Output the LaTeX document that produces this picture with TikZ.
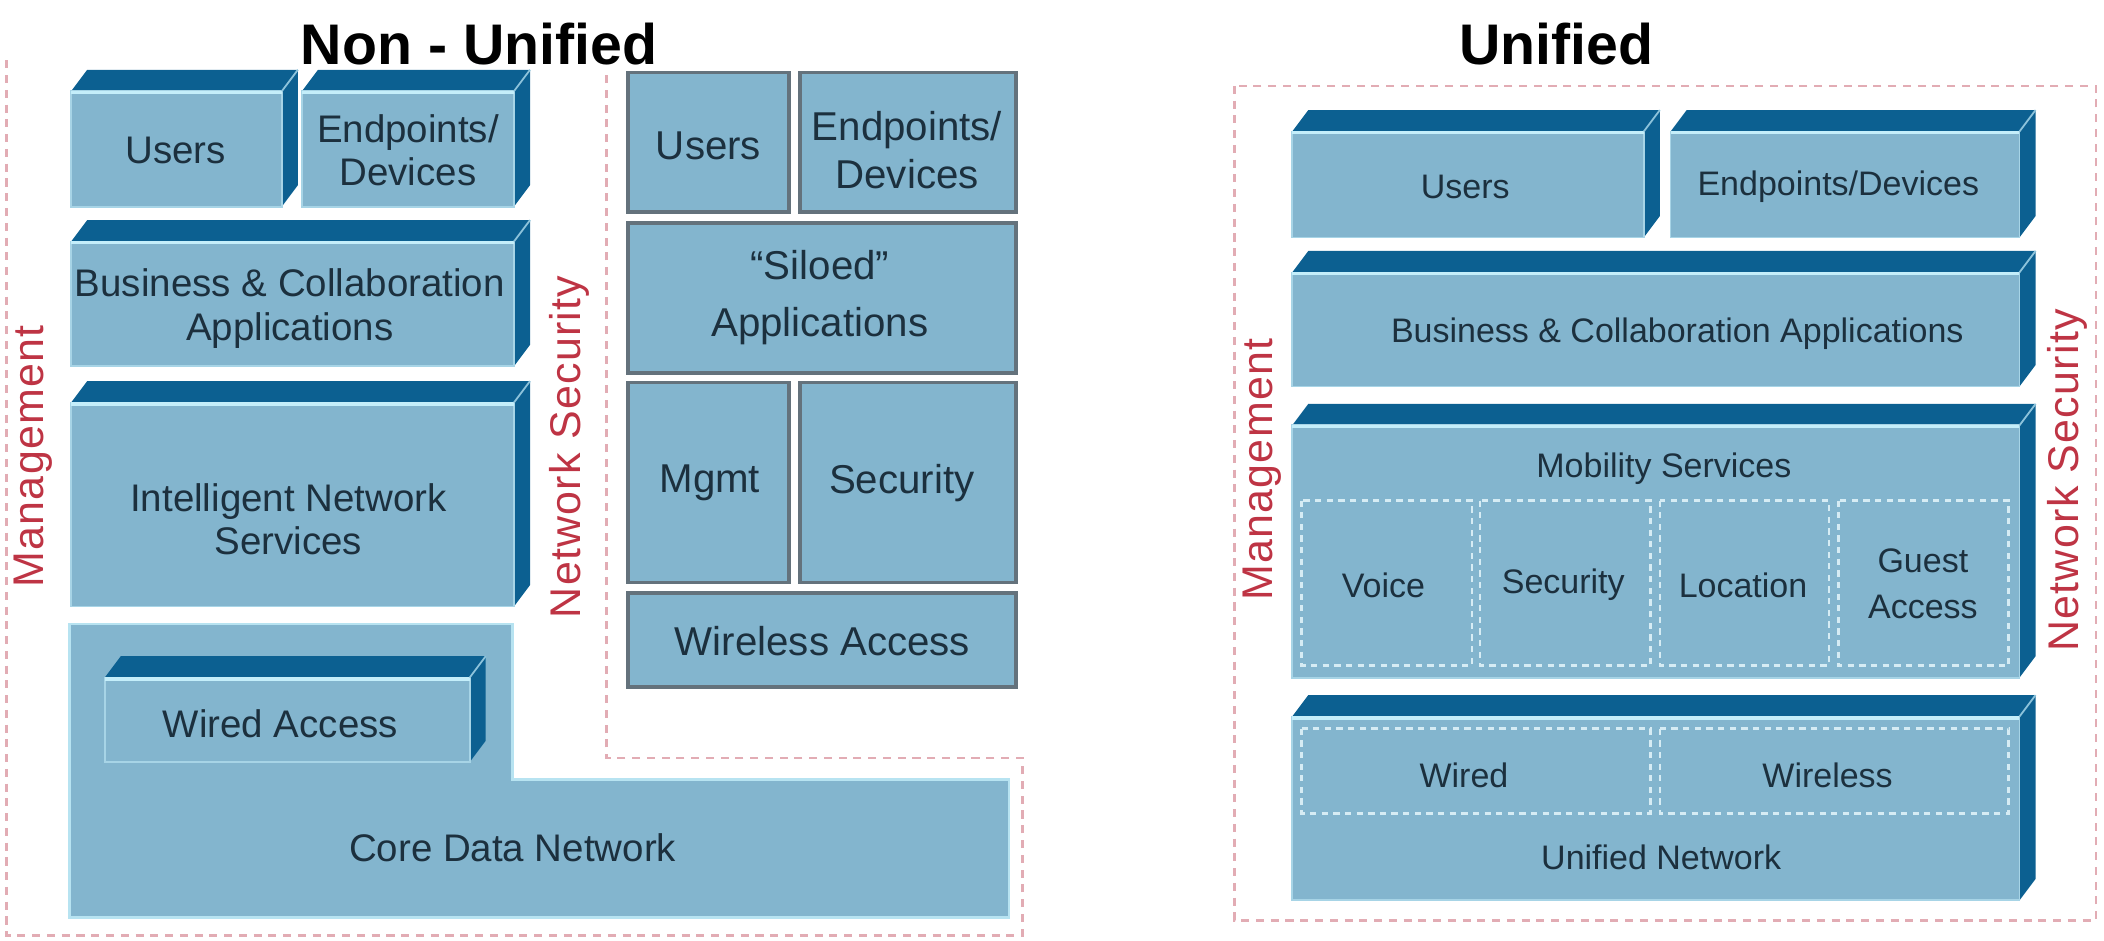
\documentclass[tikz,border=0pt]{standalone}
\usepackage{fontspec}
\setmainfont{Liberation Sans}
\usepackage{tikz}

\definecolor{boxface}{RGB}{131,181,206}
\definecolor{boxdark}{RGB}{12,96,145}
\definecolor{boxhi}{RGB}{196,238,250}
\definecolor{boxtext}{RGB}{28,48,62}
\definecolor{boxline}{RGB}{100,114,124}
\definecolor{redline}{RGB}{226,172,180}
\definecolor{redtext}{RGB}{190,52,68}
\definecolor{innerline}{RGB}{214,236,244}

\tikzset{
  lblleft/.style={text=boxtext, align=center, inner sep=0.75pt, font=\fontsize{21.5}{24.5}\selectfont},
  lblmid/.style={text=boxtext, align=center, inner sep=0.75pt, font=\fontsize{22.5}{25}\selectfont},
  lbluni/.style={text=boxtext, align=center, inner sep=0.75pt, font=\fontsize{19}{25.5}\selectfont},
  heading/.style={text=black, inner sep=0.75pt, font=\fontsize{32}{36}\bfseries},
  redlbl/.style={text=redtext, inner sep=0.75pt, rotate=90, font=\fontsize{24}{26}\selectfont\addfontfeatures{LetterSpace=3}},
  redborder/.style={draw=redline, line width=1.5pt, dash pattern=on 4.5pt off 3.75pt},
  innerbox/.style={draw=innerline, line width=1.5pt, dash pattern=on 3.5pt off 3pt},
  flatbox/.style={fill=boxface, draw=boxline, line width=2pt},
}

% 3D slab: front face from (#1,#2) to (#3,#4)
\newcommand{\slab}[4]{%
  \fill [boxdark] (#1,#2) -- (#1+12,#2-16) -- (#3+12,#2-16) -- (#3+12,#4-16) -- (#3,#4) -- cycle ;
  \filldraw [fill=boxface, draw=boxhi!55!boxface, line width=1pt] (#1,#2) rectangle (#3,#4) ;
  \draw [boxhi, line width=1.8pt] (#1,#2+1) -- (#3,#2+1) ;
  \draw [boxhi!70!boxdark, line width=1pt] (#3,#2) -- (#3+12,#2-16) ;
}

\begin{document}
\begin{tikzpicture}[x=0.75pt,y=0.75pt,yscale=-1,xscale=1]
\useasboundingbox (0,0) rectangle (1568,701);

%Shape: Dashed borders
\draw [redborder] (5,45) -- (5,697) -- (762,697) -- (762,565) -- (452,565) -- (452,55) ;
\draw [redborder] (920,64) rectangle (1562,686) ;

%Shape: Non-unified stack
\slab{53}{68}{210}{154}
\slab{225}{68}{383}{154}
\slab{53}{180}{383}{273}
\slab{53}{300}{383}{452}
\filldraw [fill=boxface, draw=boxhi!80!boxface, line width=1.5pt] (52,465) -- (382,465) -- (382,581) -- (752,581) -- (752,684) -- (52,684) -- cycle ;
\slab{78}{505}{350}{568}

%Shape: Siloed stack
\draw [flatbox] (468,54) rectangle (588,158) ;
\draw [flatbox] (596,54) rectangle (757,158) ;
\draw [flatbox] (468,166) rectangle (757,278) ;
\draw [flatbox] (468,285) rectangle (588,434) ;
\draw [flatbox] (596,285) rectangle (757,434) ;
\draw [flatbox] (468,442) rectangle (757,512) ;

%Shape: Unified stack
\slab{963}{98}{1225}{177}
\slab{1245}{98}{1505}{177}
\slab{963}{203}{1505}{288}
\slab{963}{317}{1505}{505}
\slab{963}{534}{1505}{671}
\foreach \xa/\xb in {970/1097, 1103/1230, 1237/1363, 1370/1497}
  \draw [innerbox] (\xa,373) rectangle (\xb,496) ;
\foreach \xa/\xb in {970/1230, 1237/1497}
  \draw [innerbox] (\xa,543) rectangle (\xb,606) ;

% Text Node
\node [heading] (titleNon) at (357,33) {Non - Unified};
\node [heading] (titleUni) at (1160,33) {Unified};
\node [redlbl] (mgmtL) at (25,340) {Management};
\node [redlbl] (secL) at (424,333) {Network Security};
\node [redlbl] (mgmtU) at (941,350) {Management};
\node [redlbl] (secU) at (1541,358) {Network Security};

% Text Node
\node [lblleft] (usersL) at (131,112) {Users};
\node [lblleft] (endL) at (304,112) {Endpoints/\\Devices};
\node [lblleft] (bizL) at (216,230) {Business \& Collaboration\\Applications};
\node [lblleft] (ins) at (215,387) {Intelligent Network\\Services};
\node [lblleft] (wired) at (209,539) {Wired Access};
\node [lblleft] (core) at (382,632) {Core Data Network};

% Text Node
\node [lblmid] (usersM) at (528,109) {Users};
\node [lblmid, font=\fontsize{22.5}{27}\selectfont] (endM) at (676,112) {Endpoints/\\Devices};
\node [lblmid, font=\fontsize{22.5}{32}\selectfont] (siloed) at (611,222) {“Siloed”\\Applications};
\node [lblmid] (mgmtM) at (529,360) {Mgmt};
\node [lblmid] (secM) at (672,360) {Security};
\node [lblmid] (wless) at (613,478) {Wireless Access};

% Text Node
\node [lbluni] (usersU) at (1092,139) {Users};
\node [lbluni] (endU) at (1370,139) {Endpoints/Devices};
\node [lbluni] (bizU) at (1250,249) {Business \& Collaboration Applications};
\node [lbluni] (mob) at (1240,349) {Mobility Services};
\node [lbluni] (voice) at (1031,436) {Voice};
\node [lbluni] (secU2) at (1165,436) {Security};
\node [lbluni] (loc) at (1299,436) {Location};
\node [lbluni] (guest) at (1433,435) {Guest\\Access};
\node [lbluni] (wiredU) at (1091,578) {Wired};
\node [lbluni] (wlessU) at (1362,578) {Wireless};
\node [lbluni] (uninet) at (1238,639) {Unified Network};

\end{tikzpicture}
\end{document}
